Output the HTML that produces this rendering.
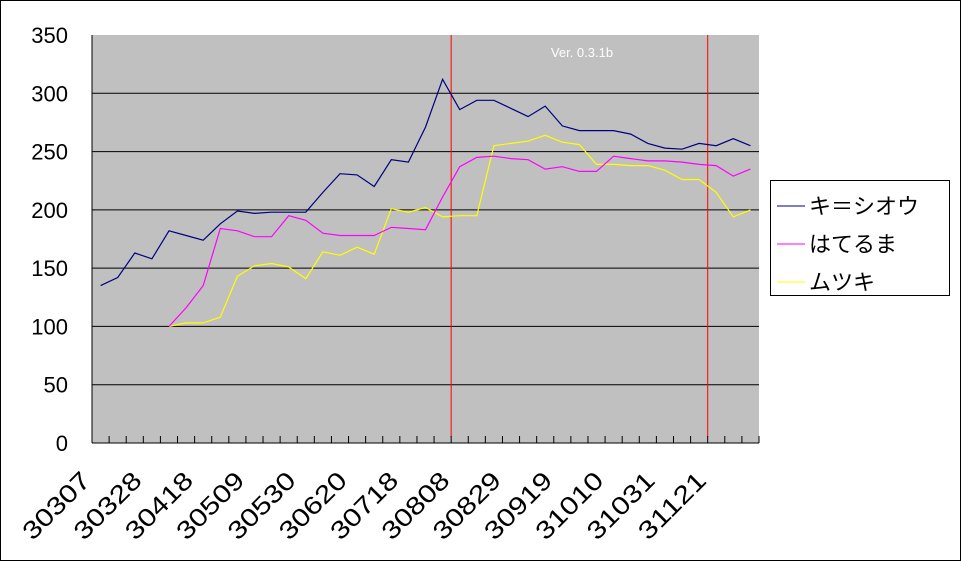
<!DOCTYPE html>
<html><head><meta charset="utf-8"><style>
body{margin:0;background:#fff}
svg{display:block;font-family:"Liberation Sans","Noto Sans CJK JP",sans-serif}
</style></head><body>
<svg id="chart" width="961" height="561">
<rect x="0.5" y="0.5" width="960" height="560" fill="#fff" stroke="#000"/>
<rect x="92" y="35" width="667" height="408" fill="#c0c0c0"/>
<g id="grid"></g><g id="marks"></g><g id="axes"></g>
<text x="582" y="57" fill="#fff" font-size="13" text-anchor="middle">Ver. 0.3.1b</text>
<g>
<rect x="770.5" y="180.5" width="179" height="115" fill="#fff" stroke="#000"/>
<g><line x1="777" y1="206" x2="805" y2="206" stroke="#000080"/><text x="809" y="214" font-size="22">キ＝シオウ</text></g>
<g><line x1="777" y1="244" x2="805" y2="244" stroke="#ff00ff"/><text x="809" y="252" font-size="22">はてるま</text></g>
<g><line x1="777" y1="282" x2="805" y2="282" stroke="#ffff00"/><text x="809" y="290" font-size="22">ムツキ</text></g>
</g>
</svg>
<script>
const categories=["30307","30314","30321","30328","30404","30411","30418","30425","30502","30509","30516","30523","30530","30606","30613","30620","30627","30711","30718","30725","30801","30808","30815","30822","30829","30905","30912","30919","30926","31003","31010","31017","31024","31031","31107","31114","31121","31128","31205"];
const kishiou=[135,142,163,158,182,178,174,188,199,197,198,198,198,215,231,230,220,243,241,271,312,286,294,294,287,280,289,272,268,268,268,265,257,253,252,257,255,261,255];
const hateruma=[null,null,null,null,100,116,135,184,182,177,177,195,191,180,178,178,178,185,184,183,211,237,245,246,244,243,235,237,233,233,246,244,242,242,241,239,238,229,235];
const mutsuki=[null,null,null,null,100,103,103,108,143,152,154,151,141,164,161,168,162,201,198,202,194,195,195,255,257,259,264,258,256,239,239,238,238,234,226,226,215,194,200];
const yTicks=[0,50,100,150,200,250,300,350];
const labelEvery=3;
const markerLines=[21,36];
const NS="http://www.w3.org/2000/svg";
const L=92,R=759,T=35,B=443,yMax=350;
const band=(R-L)/categories.length;
const xs=i=>L+band*(i+0.5);
const ys=v=>B-(v/yMax)*(B-T);
function mk(tag,attrs,parent){const e=document.createElementNS(NS,tag);for(const k in attrs)e.setAttribute(k,attrs[k]);parent.appendChild(e);return e;}
const grid=document.getElementById('grid'),marks=document.getElementById('marks'),axes=document.getElementById('axes');
yTicks.forEach(v=>{
 if(v>0&&v<yMax){const g=mk('line',{x1:L,x2:R,y1:ys(v),y2:ys(v),stroke:'#000'},grid);
 
 }
 const t=mk('text',{x:68,y:ys(v)+8,'font-size':22,'text-anchor':'end'},axes);t.textContent=v;
 
 
});
markerLines.forEach(i=>{const l=mk('line',{x1:L+band*i,x2:L+band*i,y1:T,y2:B-6,stroke:'#ff0000'},grid);
 
 });
const ya=mk('line',{x1:L,x2:L,y1:T,y2:B,stroke:'#000'},axes);


const xa=mk('line',{x1:L,x2:R,y1:B,y2:B,stroke:'#000'},axes);


for(let i=0;i<=categories.length;i++){mk('line',{x1:L+band*i,x2:L+band*i,y1:B-7,y2:B,stroke:'#000'},axes);}
categories.forEach((c,i)=>{if(i%labelEvery)return;
 const x=L+band*i,y=B+39;
 const t=mk('text',{x:x,y:y,'font-size':25,'text-anchor':'end',textLength:84,lengthAdjust:'spacingAndGlyphs',transform:`rotate(-45 ${x} ${y})`},axes);t.textContent=c;
 
 });
function series(data,color,name){let d='';let started=false;
 data.forEach((v,i)=>{if(v==null)return;d+=(started?'L':'M')+xs(i).toFixed(1)+' '+ys(v).toFixed(1)+' ';started=true;});
 const p=mk('path',{d:d,fill:'none',stroke:color,'stroke-width':1.2},marks);
 
 }
series(mutsuki,'#ffff00','series-mutsuki');
series(hateruma,'#ff00ff','series-hateruma');
series(kishiou,'#000080','series-kishiou');
</script>
</body></html>
